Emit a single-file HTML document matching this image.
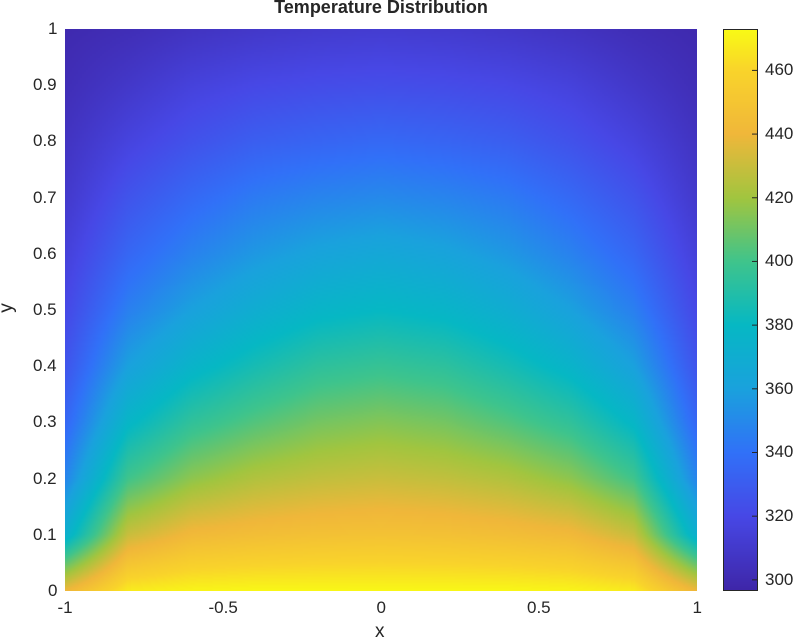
<!DOCTYPE html>
<html><head><meta charset="utf-8">
<style>
html,body{margin:0;padding:0;background:#fff;width:800px;height:644px;overflow:hidden;font-family:"Liberation Sans",Arial,sans-serif;}
#wrap{position:relative;width:800px;height:644px;}
canvas{position:absolute;image-rendering:auto;}
.t{position:absolute;font-size:17px;color:#262626;white-space:nowrap;}
</style></head><body>
<div id="wrap">
<canvas id="heat" width="316" height="281" style="left:65px;top:29px;width:632px;height:562px;"></canvas>
<canvas id="cbar" width="1" height="281" style="left:723px;top:29px;width:35px;height:562px;"></canvas>
<svg id="ov" width="800" height="644" style="position:absolute;left:0;top:0"></svg>
<div class="t" style="left:0;width:762px;text-align:center;top:-3px;font-weight:bold;font-size:18px;">Temperature Distribution</div>
<div class="t" style="left:375px;top:621px;font-size:19px;">x</div>
<div class="t" style="left:2px;top:297px;font-size:19px;transform:rotate(-90deg);">y</div>
<div id="labels"></div>
</div>
<script>
// Data grid: x nodes, y nodes, temperature values (rows = y from 0 to 1)
const xNodes = [-1,-0.8,-0.6,-0.4,-0.2,0,0.2,0.4,0.6,0.8,1];
const yNodes = [0,0.1,0.2,0.3,0.4,0.5,0.6,0.7,0.8,0.9,1];
const edgeCol = [440,372,348,335,326,320,315,310,306,302,299];
const col08 = [468,430,400,378,360,346,335,326,317,309,302];
const col06 = [471,442,416,395,376,360,347,336,325,316,306];
const col04 = [472,445,424,404,386,370,356,344,331,320,309];
const col02 = [472,447,428,411,394,377,362,348,334,322,311];
const col00 = [472,448,430,414,397,380,365,350,336,323,312];
const tempCols = [edgeCol,col08,col06,col04,col02,col00,col02,col04,col06,col08,edgeCol];
const xTicks = [-1,-0.5,0,0.5,1];
const xTickLabels = ["-1","-0.5","0","0.5","1"];
const yTicks = [0,0.1,0.2,0.3,0.4,0.5,0.6,0.7,0.8,0.9,1];
const yTickLabels = ["0","0.1","0.2","0.3","0.4","0.5","0.6","0.7","0.8","0.9","1"];
const cTicks = [300,320,340,360,380,400,420,440,460];
const cTickLabels = ["300","320","340","360","380","400","420","440","460"];
const cMin = 296.5, cMax = 473;

const PX=65,PY=29,PW=632,PH=562;
const xS = v => PX + (v+1)/2*PW;
const yS = v => PY + PH - v*PH;
const cS = v => PY + PH - (v-cMin)/(cMax-cMin)*PH;

const stops=[[0,[62,38,168]],[0.133,[71,72,230]],[0.246,[49,113,248]],[0.36,[26,162,221]],[0.473,[6,184,196]],[0.586,[63,196,140]],[0.7,[162,197,63]],[0.813,[240,183,58]],[0.926,[249,212,43]],[1,[249,251,21]]];
function cmap(v){let t=Math.max(0,Math.min(1,(v-cMin)/(cMax-cMin)));
 for(let i=1;i<stops.length;i++){if(t<=stops[i][0]){const a=stops[i-1],b=stops[i];const f=(t-a[0])/(b[0]-a[0]);return a[1].map((c,k)=>Math.round(c+(b[1][k]-c)*f));}}
 return stops[stops.length-1][1];}
function sample(x,y){
 let i=0;while(i<xNodes.length-2&&x>xNodes[i+1])i++;
 let j=0;while(j<yNodes.length-2&&y>yNodes[j+1])j++;
 const fx=(x-xNodes[i])/(xNodes[i+1]-xNodes[i]),fy=(y-yNodes[j])/(yNodes[j+1]-yNodes[j]);
 const a=tempCols[i][j],b=tempCols[i+1][j],c=tempCols[i][j+1],d=tempCols[i+1][j+1];
 return a*(1-fx)*(1-fy)+b*fx*(1-fy)+c*(1-fx)*fy+d*fx*fy;}
(function(){
 const cv=document.getElementById('heat'),ctx=cv.getContext('2d'),W=cv.width,H=cv.height;
 const img=ctx.createImageData(W,H);
 for(let py=0;py<H;py++)for(let px=0;px<W;px++){
  const x=-1+2*(px+0.5)/W,y=1-(py+0.5)/H;const c=cmap(sample(x,y));const k=(py*W+px)*4;
  img.data[k]=c[0];img.data[k+1]=c[1];img.data[k+2]=c[2];img.data[k+3]=255;}
 ctx.putImageData(img,0,0);
 const cb=document.getElementById('cbar'),cx=cb.getContext('2d');const im2=cx.createImageData(1,cb.height);
 for(let py=0;py<cb.height;py++){const v=cMax-(py+0.5)/cb.height*(cMax-cMin);const c=cmap(v);const k=py*4;im2.data[k]=c[0];im2.data[k+1]=c[1];im2.data[k+2]=c[2];im2.data[k+3]=255;}
 cx.putImageData(im2,0,0);
})();
const svg=document.getElementById('ov'),NS='http://www.w3.org/2000/svg',L=document.getElementById('labels');
function line(x1,y1,x2,y2,name){const l=document.createElementNS(NS,'line');l.setAttribute('x1',x1);l.setAttribute('y1',y1);l.setAttribute('x2',x2);l.setAttribute('y2',y2);l.setAttribute('stroke','#262626');l.setAttribute('stroke-width','1');
 
 
 svg.appendChild(l);}
function lab(txt,x,y,align,name){const d=document.createElement('div');d.className='t';d.textContent=txt;
 
 
 L.appendChild(d);const w=d.offsetWidth;d.style.left=(align==='c'?x-w/2:align==='r'?x-w:x)+'px';d.style.top=(y-10)+'px';}
xTicks.forEach((v,i)=>{lab(xTickLabels[i],xS(v),608,'c','x-tick-label');});
yTicks.forEach((v,i)=>{lab(yTickLabels[i],57,yS(v),'r','y-tick-label');});
cTicks.forEach((v,i)=>{line(752,cS(v),758,cS(v),'colorbar-tick');lab(cTickLabels[i],765,cS(v),'l','colorbar-tick-label');});
const r=document.createElementNS(NS,'rect');r.setAttribute('x',723.5);r.setAttribute('y',29.5);r.setAttribute('width',34);r.setAttribute('height',561);r.setAttribute('fill','none');r.setAttribute('stroke','#262626');


svg.appendChild(r);
</script>
</body></html>
